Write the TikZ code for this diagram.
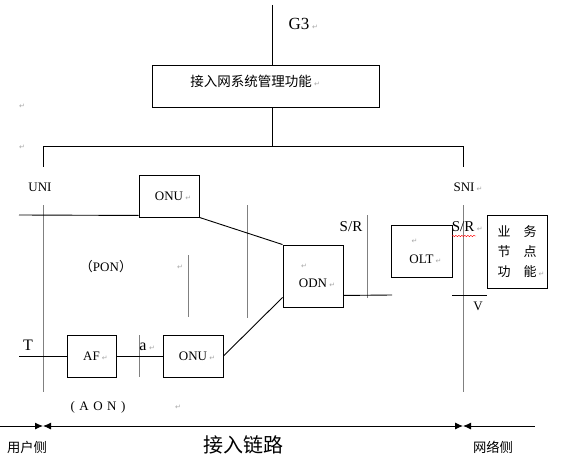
\documentclass[tikz,border=0pt]{standalone}
\usepackage{fontspec}
\setmainfont{Liberation Serif}
\newfontfamily\cjk{Noto Sans CJK SC}
\newfontfamily\retfont{DejaVu Sans}
\usepackage{tikz}
\usetikzlibrary{positioning,arrows.meta,decorations.pathmorphing}
\newcommand\fs[1]{\fontsize{#1}{#1}\selectfont}
\newcommand\ret{\rlap{\,{\retfont\fontsize{7}{8}\selectfont\color{gray!70}↵}}}
\tikzset{
  box/.style={draw, line width=0.9pt, inner sep=0pt, font=\fs{13}},
  wire/.style={black, line width=0.9pt},
  refline/.style={gray, line width=0.6pt},
  cjktext/.style={inner sep=0pt, font=\cjk\fs{13.5}},
  lbl/.style={inner sep=0pt, font=\fs{13}},
  retmark/.style={inner sep=0pt, font=\retfont\fontsize{7}{8}\selectfont, text=gray!70},
  span/.style={black, line width=0.9pt},
  tip/.tip={Latex[length=8pt,width=7pt]}
}

\begin{document}
\begin{tikzpicture}[x=1pt, y=-1pt]
\useasboundingbox (0,0) rectangle (561,470);
% management on top
\coordinate (g3top) at (272,5);
\node[box, minimum width=227pt, minimum height=42pt] (mgmt) at (265.5,86) {};
\node[cjktext] (mgmttxt) at (251,81) {接入网系统管理功能\ret};
\node[lbl, font=\fs{17}] (g3) at (299,24) {G3\ret};
\node[retmark] (ret1) at (22,106) {↵};
\node[retmark] (ret2) at (22,147) {↵};
\coordinate (busl) at (43,146);
\coordinate (busr) at (463,146);
\draw[wire] (g3top) -- (g3top |- mgmt.north);
\draw[wire] (g3top |- mgmt.south) -- (g3top |- busl);
\draw[wire] ([yshift=-21pt]busl) -- (busl) -- (busr) -- ([yshift=-21pt]busr);
\node[lbl] (uni) at (40,187) {UNI};
\node[lbl] (sni) at (464,187) {SNI\ret};

% reference points
\draw[refline] (43,205) -- (43,392);
\draw[refline] (463,205) -- (463,392);
\draw[refline] (188,255) -- (188,317);
\draw[refline] (247,205) -- (247,318);
\draw[refline] (367,215) -- (367,298);
\draw[refline] (139,335) -- (139,377);

% boxes
\node[box, minimum width=60pt, minimum height=42pt] (onua) at (169,196) {ONU\ret};
\node[box, minimum width=60pt, minimum height=62pt, align=left, font=\fontsize{13}{19}\selectfont] (odn) at (313,276) {\ret\\ODN\ret};
\node[box, minimum width=61pt, minimum height=52pt, align=left, font=\fontsize{13}{20}\selectfont] (olt) at (421.5,251) {\ret\\OLT\ret};
\node[box, minimum width=60pt, minimum height=73pt, align=left, font=\cjk\fontsize{13}{20}\selectfont] (sn) at (517,251.5) {业　务\\节　点\\功　能\ret};
\node[box, minimum width=49pt, minimum height=42pt] (af) at (91.5,356) {AF\ret};
\node[box, minimum width=60pt, minimum height=42pt] (onub) at (193,356) {ONU\ret};

% links
\coordinate (pin) at (19,215);
\coordinate (tin) at (19,356);
\coordinate (srl) at (392,295);
\coordinate (vl) at (452,295);
\coordinate (vr) at (487,295);
\draw[wire] (pin) -- ([yshift=2pt]onua.south west);
\draw[wire] (onua.south east) -- (odn.north west);
\draw[wire] (tin) -- (af.west);
\draw[wire] (af.east) -- (onub.west);
\draw[wire] (onub.east) -- ([yshift=10pt]odn.south west);
\draw[wire] ([yshift=12pt]odn.south east) -- (srl);
\draw[wire] (vl) -- (vr);

% labels
\node[lbl] (pon) at (106,267) {{\cjk （}PON{\cjk ）}};
\node[retmark] (ret3) at (180,267) {↵};
\node[lbl, font=\fs{15}] (srleft) at (351,227) {S/R};
\node[lbl, font=\fs{15}] (srright) at (463,227) {S/R\ret};
\draw[red, line width=0.4pt, decorate, decoration={snake, amplitude=0.7pt, segment length=3pt}] (452,236) -- (476,236);
\node[lbl] (v) at (478,306) {V};
\node[lbl, font=\fs{16}] (t) at (28,345) {T};
\node[lbl, font=\fs{16}] (a) at (143,347) {a\ret};
\node[lbl] (aon) at (98,407) {(\hspace{4.5pt}A\hspace{4.5pt}O\hspace{4.5pt}N\hspace{4.5pt})};
\node[retmark] (ret4) at (178,407) {↵};

% sides at the bottom
\coordinate (s0) at (0,426);
\coordinate (s1) at (43,426);
\coordinate (s2) at (463,426);
\coordinate (s3) at (535,426);
\draw[span, -tip] (s0) -- (s1);
\draw[span, tip-tip] (s1) -- (s2);
\draw[span, tip-] (s2) -- (s3);
\node[cjktext, font=\cjk\fs{13.3}] (user) at (27,447) {用户侧};
\node[cjktext, font=\cjk\fs{20}] (link) at (243,445) {接入链路};
\node[cjktext, font=\cjk\fs{13.3}] (net) at (493,447) {网络侧};
\end{tikzpicture}
\end{document}
